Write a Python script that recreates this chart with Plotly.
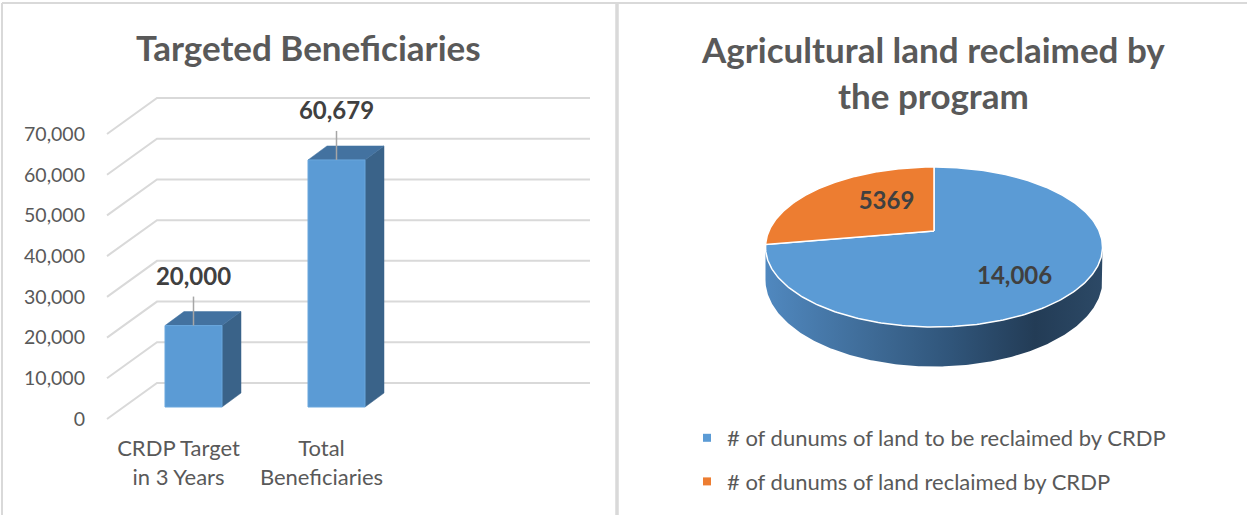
import numpy as np
import plotly.graph_objects as go

W, H = 1247, 515

# ---------------- data ----------------
bar_categories = ["CRDP Target<br>in 3 Years", "Total<br>Beneficiaries"]
bar_values = [20000, 60679]
bar_text = ["20,000", "60,679"]
y_ticks = [0, 10000, 20000, 30000, 40000, 50000, 60000, 70000]
y_tick_text = ["0", "10,000", "20,000", "30,000", "40,000", "50,000", "60,000", "70,000"]

pie_names = ["# of dunums of land to be reclaimed by CRDP", "# of dunums of land reclaimed by CRDP"]
pie_values = [14006, 5369]
pie_text = ["14,006", "5369"]

left_title = "Targeted Beneficiaries"
right_title = "Agricultural land reclaimed by<br>the program"

# ---------------- styles ----------------
FONT = "Lato"
TXT = "#595959"
LBL = "#404040"
GRID = "#d9d9d9"
BLUE = "#5b9bd5"
BLUE_SIDE = "#3a6389"
BLUE_TOP = "#4372a0"
ORANGE = "#ed7d31"

# bar-chart projection (pixels <-> value units)
Y0_PX = 419.0                 # front floor line, value 0
SCALE = (419.0 - 134.0) / 70000.0   # px per value unit
def pv(px):
    return px / SCALE
DOM_BOTTOM_PX = 433.0
Y_MIN = -(DOM_BOTTOM_PX - Y0_PX) / SCALE
Y_MAX = Y0_PX / SCALE
X_LEFT_PX, X_RIGHT_PX = 86.0, 612.0

GRID_X_FRONT = 107.0
GRID_DX = 50.0
GRID_DY = pv(36.0)
GRID_X_END = 590.0

CAT_X0 = 193.5
CAT_STEP = 143.0
BAR_W = 57.0
FRONT_DY = pv(12.0)
DEPTH_DX = 19.0
DEPTH_DY = pv(14.0)
LEADER = pv(29.0)
LABEL_UP = pv(47.0)
CAT_LABEL_SHIFT = -15.0

fig = go.Figure()

# gridlines (3D walls)
gx, gy = [], []
for v in y_ticks:
    gx += [GRID_X_FRONT, GRID_X_FRONT + GRID_DX, GRID_X_END, None]
    gy += [v, v + GRID_DY, v + GRID_DY, None]
fig.add_trace(go.Scatter(x=gx, y=gy, mode="lines", line=dict(color=GRID, width=2),
                         hoverinfo="skip", showlegend=False))

# bars
for i, v in enumerate(bar_values):
    c = CAT_X0 + i * CAT_STEP
    xl, xr = c - BAR_W / 2, c + BAR_W / 2
    b = FRONT_DY
    t = v + FRONT_DY
    fig.add_trace(go.Scatter(
        x=[xr, xr + DEPTH_DX, xr + DEPTH_DX, xr, xr],
        y=[b, b + DEPTH_DY, t + DEPTH_DY, t, b],
        mode="lines", fill="toself", fillcolor=BLUE_SIDE,
        line=dict(color=BLUE_SIDE, width=0.5), hoverinfo="skip", showlegend=False))
    fig.add_trace(go.Scatter(
        x=[xl, xl + DEPTH_DX, xr + DEPTH_DX, xr, xl],
        y=[t, t + DEPTH_DY, t + DEPTH_DY, t, t],
        mode="lines", fill="toself", fillcolor=BLUE_TOP,
        line=dict(color=BLUE_TOP, width=0.5), hoverinfo="skip", showlegend=False))
    fig.add_trace(go.Scatter(
        x=[xl, xr, xr, xl, xl], y=[b, b, t, t, b],
        mode="lines", fill="toself", fillcolor=BLUE,
        line=dict(color="#6aa7dd", width=1), hoverinfo="skip", showlegend=False))
    fig.add_trace(go.Scatter(x=[c, c], y=[t, t + LEADER], mode="lines",
                             line=dict(color="#a6a6a6", width=1.5),
                             hoverinfo="skip", showlegend=False))

# data labels
fig.add_trace(go.Scatter(
    x=[CAT_X0 + i * CAT_STEP for i in range(len(bar_values))],
    y=[v + FRONT_DY + LABEL_UP for v in bar_values],
    mode="text", text=bar_text, textposition="middle center",
    textfont=dict(family=FONT, size=24, color=LBL, weight="bold"),
    hoverinfo="skip", showlegend=False))

# ---------------- pie (perspective-projected) ----------------
PCX, PCY = 934.0, 231.0
PA, PB = 825.5, 384.0
PD = 5.0
THICK = 158.0

def proj(r, th):
    s = np.sin(th)
    d = PD + r * s
    return PCX + PA * r * np.cos(th) / d, PCY - PB * r * s / d

total = float(sum(pie_values))
angles = [np.pi / 2]
for v in pie_values:
    angles.append(angles[-1] - 2 * np.pi * v / total)

# side band (front half only)
sil = np.arcsin(1.0 / PD)
ths = np.linspace(-np.pi + sil, -sil, 240)
tx, ty = proj(1.0, ths)
byy = ty + THICK / (PD + np.sin(ths))
sx = np.concatenate([tx, tx[::-1], tx[:1]])
sy = np.concatenate([ty, byy[::-1], ty[:1]])
fig.add_trace(go.Scatter(
    x=sx, y=sy, xaxis="x2", yaxis="y2", mode="lines", fill="toself",
    line=dict(width=0, color="rgba(0,0,0,0)"),
    fillgradient=dict(type="horizontal",
                      colorscale=[[0, "#5088bf"], [0.3, "#3f6c98"], [0.55, "#30557a"],
                                  [0.8, "#233c56"], [1, "#2c4966"]]),
    hoverinfo="skip", showlegend=False))

slice_colors = [BLUE, ORANGE]
for i, v in enumerate(pie_values):
    th = np.linspace(angles[i], angles[i + 1], 300)
    x, y = proj(1.0, th)
    fig.add_trace(go.Scatter(
        x=np.concatenate([[PCX], x, [PCX]]), y=np.concatenate([[PCY], y, [PCY]]),
        xaxis="x2", yaxis="y2", mode="lines", fill="toself",
        fillcolor=slice_colors[i], line=dict(color="white", width=1.5),
        hoverinfo="skip", showlegend=False))

# pie labels
LAB_R = [0.70, 0.50]
LAB_ROT = np.radians(-11.5)
lx, ly = [], []
for i in range(len(pie_values)):
    mid = (angles[i] + angles[i + 1]) / 2 + LAB_ROT
    x, y = proj(LAB_R[i], mid)
    lx.append(x); ly.append(y)
fig.add_trace(go.Scatter(
    x=lx, y=ly, xaxis="x2", yaxis="y2", mode="text", text=pie_text,
    textfont=dict(family=FONT, size=24, color=LBL, weight="bold"),
    hoverinfo="skip", showlegend=False))

# legend entries
for i, name in enumerate(pie_names):
    fig.add_trace(go.Scatter(
        x=[None], y=[None], xaxis="x2", yaxis="y2", mode="markers", name=name,
        marker=dict(symbol="square", size=8, color=slice_colors[i]),
        legendgroup=f"g{i}", showlegend=True))

# ---------------- layout ----------------
fig.update_layout(
    width=W, height=H, margin=dict(l=0, r=0, t=0, b=0),
    paper_bgcolor="white", plot_bgcolor="rgba(0,0,0,0)",
    font=dict(family=FONT, color=TXT),
    xaxis=dict(domain=[X_LEFT_PX / W, X_RIGHT_PX / W], range=[X_LEFT_PX, X_RIGHT_PX],
               showgrid=False, zeroline=False, showline=False,
               tickmode="array",
               tickvals=[CAT_X0 + i * CAT_STEP + CAT_LABEL_SHIFT for i in range(len(bar_categories))],
               ticktext=bar_categories, ticks="",
               tickfont=dict(family=FONT, size=22, color=TXT), fixedrange=True),
    yaxis=dict(domain=[1 - DOM_BOTTOM_PX / H, 1], range=[Y_MIN, Y_MAX],
               showgrid=False, zeroline=False, showline=False,
               tickmode="array", tickvals=y_ticks, ticktext=y_tick_text, ticks="",
               tickfont=dict(family=FONT, size=19.5, color=TXT), fixedrange=True),
    xaxis2=dict(domain=[620 / W, 1], range=[620, W], visible=False, fixedrange=True),
    yaxis2=dict(domain=[0, 1], range=[H, 0], visible=False, fixedrange=True, anchor="x2"),
    legend=dict(x=687 / W, y=1 - 417 / H, xanchor="left", yanchor="top",
                font=dict(family=FONT, size=22, color=TXT),
                tracegroupgap=12, bgcolor="rgba(0,0,0,0)", itemclick=False),
    annotations=[
        dict(x=308 / W, y=1 - 47 / H, xref="paper", yref="paper", text=left_title,
             showarrow=False, xanchor="center", yanchor="middle",
             font=dict(family=FONT, size=35, color=TXT, weight="bold")),
        dict(x=933 / W, y=1 - 72 / H, xref="paper", yref="paper", text=right_title,
             showarrow=False, xanchor="center", yanchor="middle",
             font=dict(family=FONT, size=35, color=TXT, weight="bold")),
    ],
    shapes=[
        dict(type="line", xref="paper", yref="paper", x0=2 / W, x1=1, y0=1 - 3 / H, y1=1 - 3 / H,
             line=dict(color=GRID, width=2)),
        dict(type="line", xref="paper", yref="paper", x0=2 / W, x1=2 / W, y0=0, y1=1 - 3 / H,
             line=dict(color=GRID, width=2)),
        dict(type="line", xref="paper", yref="paper", x0=617 / W, x1=617 / W, y0=0, y1=1 - 3 / H,
             line=dict(color=GRID, width=3.5)),
    ],
)

fig.write_html("out.html", config={"displayModeBar": False},
               post_script="document.body.style.margin='0px';")
